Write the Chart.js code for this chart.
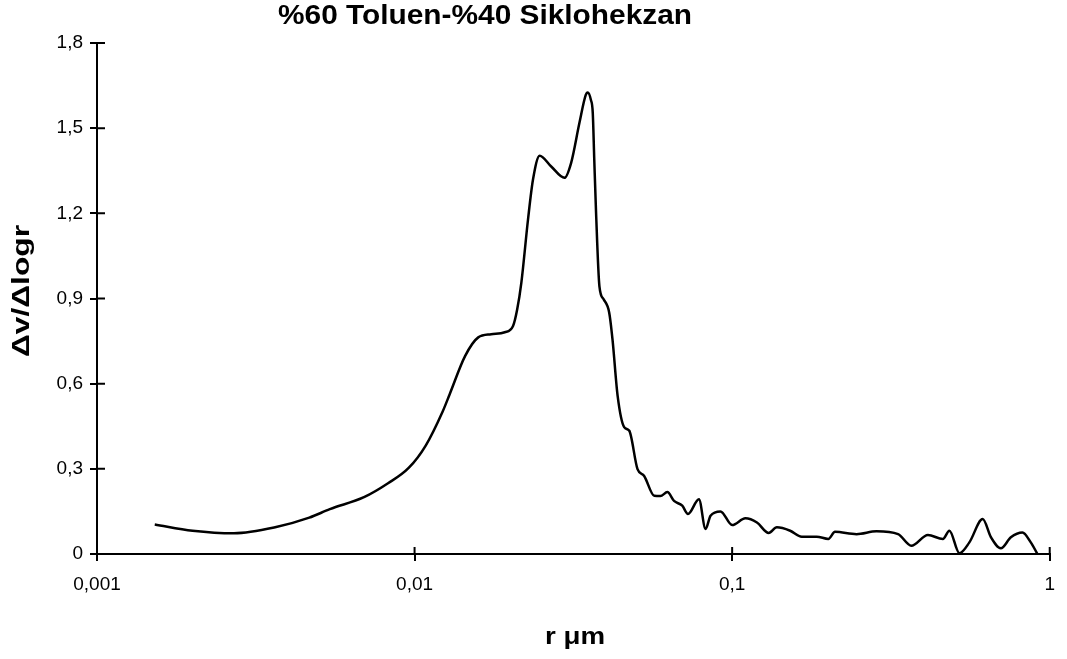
<!DOCTYPE html>
<html>
<head>
<meta charset="utf-8">
<script src="https://cdn.jsdelivr.net/npm/chart.js@4"></script>
<style>
  html, body { margin: 0; padding: 0; background: #fff; }
  #wrap { width: 1067px; height: 659px; }
</style>
</head>
<body>
<div id="wrap"><canvas id="poreChart" width="1067" height="659"></canvas></div>
<script>
// Grafik metinleri
const chartTitle = "%60 Toluen-%40 Siklohekzan";
const xTitle = "r μm";
const yTitle = "Δv/Δlogr";

// r (μm) ve Δv/Δlogr değerleri
const radius = [
  0.00152, 0.00200, 0.00270, 0.00364, 0.00466, 0.00541, 0.00693, 0.00825,
  0.00958, 0.01084, 0.01227, 0.0129, 0.01442, 0.01587, 0.01743, 0.01923,
  0.02042, 0.02104, 0.02169, 0.02276, 0.0236, 0.02477, 0.02693, 0.02966,
  0.03112, 0.03305, 0.0346, 0.03509, 0.0359, 0.0364, 0.0368, 0.03728,
  0.0382, 0.0394, 0.0410, 0.0420, 0.04359, 0.04571, 0.04744, 0.05035,
  0.05284, 0.05685, 0.05943, 0.06252, 0.06562, 0.06966, 0.07261, 0.0786,
  0.08247, 0.0855, 0.0919, 0.1, 0.1101, 0.1197, 0.1303, 0.1383,
  0.1523, 0.1656, 0.1846, 0.2009, 0.2108, 0.2465, 0.2848, 0.3331,
  0.3666, 0.4136, 0.4609, 0.4831, 0.5196, 0.5585, 0.6151, 0.6531,
  0.7017, 0.7545, 0.8207, 0.8717, 0.9151
];
const dvDlogr = [
  0.104, 0.082, 0.073, 0.094, 0.128, 0.158, 0.200, 0.249,
  0.303, 0.382, 0.503, 0.563, 0.697, 0.763, 0.774, 0.781,
  0.803, 0.861, 0.956, 1.178, 1.319, 1.403, 1.365, 1.325,
  1.378, 1.519, 1.617, 1.626, 1.600, 1.554, 1.389, 1.203,
  0.943, 0.897, 0.851, 0.756, 0.557, 0.447, 0.434, 0.299,
  0.275, 0.205, 0.204, 0.218, 0.187, 0.170, 0.141, 0.193,
  0.088, 0.135, 0.150, 0.102, 0.126, 0.111, 0.074, 0.094,
  0.082, 0.061, 0.061, 0.053, 0.078, 0.070, 0.080, 0.070,
  0.029, 0.067, 0.053, 0.082, 0.003, 0.041, 0.123, 0.059,
  0.020, 0.059, 0.076, 0.041, 0.0
];

const xTicks = [0.001, 0.01, 0.1, 1];
const yStep = 0.3;
const yMax = 1.8;

const points = radius.map((r, i) => ({ x: r, y: dvDlogr[i] }));

const fontFamily = "Arial, 'Liberation Sans', sans-serif";

// metni istenen genişliğe yatay olarak esnet (orijinal tarama biraz geniş)
function drawStretched(ctx, text, x, y, font, width, angle) {
  ctx.save();
  ctx.font = font;
  const w = ctx.measureText(text).width;
  ctx.translate(x, y);
  if (angle) ctx.rotate(angle);
  ctx.scale(width / w, 1);
  ctx.textAlign = "center";
  ctx.textBaseline = "middle";
  ctx.fillStyle = "#000";
  ctx.fillText(text, 0, 0);
  ctx.restore();
}

// eksenin içine taşan kısa çentikler + başlıklar
const extrasPlugin = {
  id: "extras",
  afterDraw(chart) {
    const ctx = chart.ctx;
    const xs = chart.scales.x;
    const ys = chart.scales.y;
    const area = chart.chartArea;
    ctx.save();
    ctx.strokeStyle = "#000";
    ctx.lineWidth = 2;
    ctx.beginPath();
    xs.ticks.forEach((t) => {
      const px = xs.getPixelForValue(t.value);
      ctx.moveTo(px, area.bottom);
      ctx.lineTo(px, area.bottom - 7);
    });
    ys.ticks.forEach((t) => {
      const py = ys.getPixelForValue(t.value);
      ctx.moveTo(area.left, py);
      ctx.lineTo(area.left + 8, py);
    });
    ctx.stroke();
    ctx.restore();

    drawStretched(ctx, chartTitle, 485, 17, "bold 27px " + fontFamily, 414);
    drawStretched(ctx, xTitle, 575, 637, "bold 24px " + fontFamily, 60);
    drawStretched(ctx, yTitle, 22, 291, "bold 24px " + fontFamily, 132, -Math.PI / 2);
  },
};

new Chart(document.getElementById("poreChart"), {
  type: "line",
  data: {
    datasets: [
      {
        data: points,
        borderColor: "#000",
        borderWidth: 2.5,
        pointRadius: 0,
        fill: false,
        cubicInterpolationMode: "monotone",
      },
    ],
  },
  options: {
    responsive: false,
    animation: false,
    layout: { padding: { top: 43, right: 12, left: 0, bottom: 0 } },
    plugins: {
      legend: { display: false },
      tooltip: { enabled: false },
      title: { display: false },
    },
    scales: {
      x: {
        type: "logarithmic",
        min: 0.001,
        max: 1,
        afterBuildTicks: (scale) => {
          scale.ticks = xTicks.map((v) => ({ value: v }));
        },
        afterFit: (scale) => {
          scale.height = 105;
        },
        ticks: {
          color: "#000",
          font: { family: fontFamily, size: 19 },
          padding: 12,
          maxRotation: 0,
          autoSkip: false,
          callback: (v) => String(v).replace(".", ","),
        },
        grid: {
          drawOnChartArea: false,
          drawTicks: true,
          tickLength: 7,
          color: "#000",
          lineWidth: 2,
        },
        border: { display: true, color: "#000", width: 2 },
      },
      y: {
        min: 0,
        max: yMax,
        afterFit: (scale) => {
          scale.width = 97;
        },
        ticks: {
          stepSize: yStep,
          color: "#000",
          font: { family: fontFamily, size: 19 },
          padding: 7,
          callback: (v) => (v === 0 ? "0" : v.toFixed(1).replace(".", ",")),
        },
        grid: {
          drawOnChartArea: false,
          drawTicks: true,
          tickLength: 7,
          color: "#000",
          lineWidth: 2,
        },
        border: { display: true, color: "#000", width: 2 },
      },
    },
  },
  plugins: [extrasPlugin],
});
</script>
</body>
</html>
